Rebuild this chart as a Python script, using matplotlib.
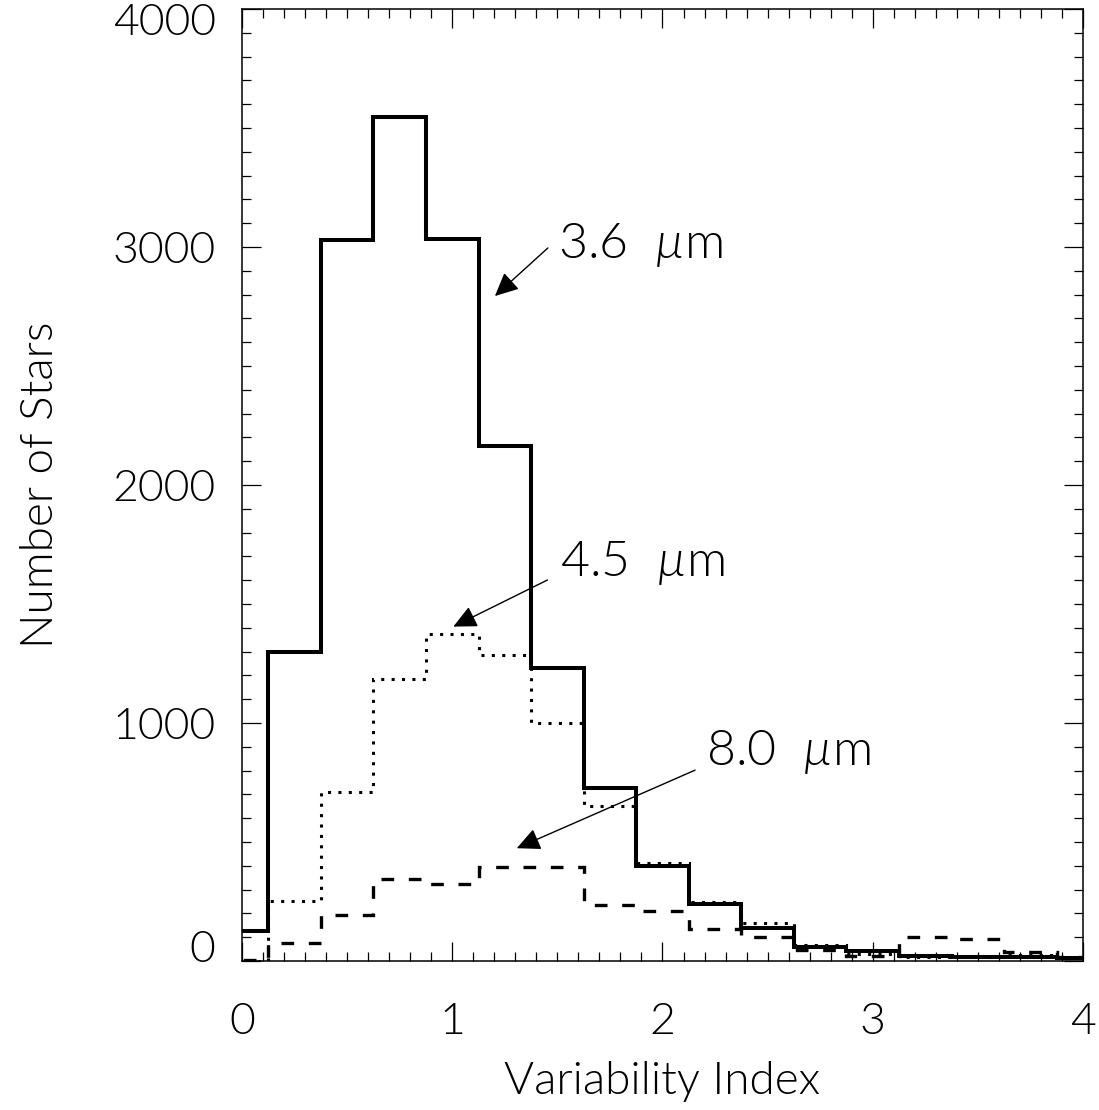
import numpy as np
import matplotlib
matplotlib.use('Agg')
import matplotlib.pyplot as plt
from matplotlib.ticker import MultipleLocator
from matplotlib.transforms import ScaledTranslation

# bin centres of the histograms (bin width 0.25)
bin_centers = [0.0, 0.25, 0.5, 0.75, 1.0, 1.25, 1.5, 1.75, 2.0,
               2.25, 2.5, 2.75, 3.0, 3.25, 3.5, 3.75, 4.0]

# number of stars per bin for each band
counts_36 = [127, 1300, 3030, 3545, 3035, 2163, 1230, 727, 398,
             238, 140, 60, 43, 21, 17, 17, 12]
counts_45 = [0, 253, 710, 1187, 1373, 1284, 999, 651, 411,
             249, 161, 67, 30, 18, 18, 25, 12]
counts_80 = [5, 75, 193, 344, 322, 394, 394, 235, 211,
             133, 102, 45, 21, 102, 92, 38, 15]

# labels: (text, text position, arrow tail, arrow tip) in data coords
labels = [
    ('3.6  $µ$m', (1.503, 3008), (1.455, 2996), (1.203, 2794)),
    ('4.5  $µ$m', (1.512, 1672), (1.453, 1601), (1.005, 1405)),
    ('8.0  $µ$m', (2.209, 878), (2.155, 802), (1.307, 474)),
]

LIGHT = 300

plt.rcParams['font.family'] = ['Lato', 'DejaVu Sans']
plt.rcParams['font.weight'] = LIGHT
plt.rcParams['mathtext.fontset'] = 'custom'
plt.rcParams['mathtext.it'] = 'Lato:style=italic:weight=300'
plt.rcParams['mathtext.rm'] = 'Lato:weight=300'

fig = plt.figure(figsize=(10.99, 11.10), dpi=100)
ax = fig.add_axes([0.2202, 0.1342, 0.7652, 0.8577])

centers = np.array(bin_centers)
width = centers[1] - centers[0]
edges = np.append(centers - width / 2, centers[-1] + width / 2)

ax.stairs(counts_36, edges, baseline=None, color='black', lw=2.9)
ax.stairs(counts_45, edges, baseline=None, color='black', lw=2.2,
          linestyle=(0, (1, 2.4)))
ax.stairs(counts_80, edges, baseline=None, color='black', lw=2.4,
          linestyle=(0, (3.8, 4.4)))

for text, tpos, tail, tip in labels:
    ax.annotate('', xy=tip, xytext=tail,
                arrowprops=dict(arrowstyle='-|>,head_length=0.8,head_width=0.38',
                                mutation_scale=18, lw=1.0, color='black',
                                shrinkA=0, shrinkB=0))
    ax.text(tpos[0], tpos[1], text, fontsize=36, fontweight=LIGHT,
            ha='left', va='center')

ax.set_xlim(0, 4)
ax.set_ylim(0, 4000)

ax.xaxis.set_major_locator(MultipleLocator(1))
ax.xaxis.set_minor_locator(MultipleLocator(0.1))
ax.yaxis.set_major_locator(MultipleLocator(1000))
ax.yaxis.set_minor_locator(MultipleLocator(100))

ax.tick_params(which='both', direction='in', top=True, right=True, width=0.9)
ax.tick_params(which='major', length=14)
ax.tick_params(which='minor', length=6.5)
ax.tick_params(axis='x', which='major', labelsize=32, pad=30)
ax.tick_params(axis='y', which='major', labelsize=32, pad=19)

# IDL-like placement: top label pushed down, bottom label pushed up
for tick, loc in zip(ax.yaxis.get_major_ticks(), ax.get_yticks()):
    dy = 0
    if loc >= 4000:
        dy = -11
    elif loc <= 0:
        dy = 15
    if dy:
        lab = tick.label1
        lab.set_transform(lab.get_transform() + ScaledTranslation(0, dy / 100, fig.dpi_scale_trans))

for sp in ax.spines.values():
    sp.set_linewidth(1.1)

ax.set_xlabel('Variability Index', fontsize=33, fontweight=LIGHT)
ax.set_ylabel('Number of Stars', fontsize=33, fontweight=LIGHT)
ax.xaxis.set_label_coords(0.5, -0.105)
ax.yaxis.set_label_coords(-0.215, 0.5)

fig.savefig('out.png', dpi=100)
